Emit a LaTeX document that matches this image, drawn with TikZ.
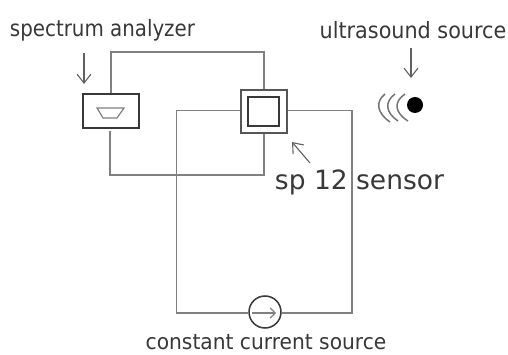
\documentclass[tikz,border=0pt]{standalone}
\usepackage{fontspec}
\setmainfont{DejaVu Sans}
\newfontfamily\condfont{DejaVu Sans Condensed}
\usetikzlibrary{arrows.meta}
\definecolor{wire}{gray}{0.5}
\definecolor{ink}{gray}{0.22}
\tikzset{
  wireline/.style={draw=wire,line width=1.3pt,line join=miter},
  boxline/.style={draw=ink,line width=1.5pt,inner sep=0pt},
  pointer/.style={draw=ink!80!white,line width=1.1pt,-{Straight Barb[length=9pt,width=14pt,line width=1.1pt]}},
  narrowlabel/.style={font=\condfont\fontsize{22.5}{26}\selectfont,text=ink,inner sep=0pt,anchor=center},
  widelabel/.style={font=\fontsize{26.5}{30}\selectfont,text=ink,inner sep=0pt,anchor=center},
  wavearc/.style={draw=ink!70!white,line width=1.5pt}
}
\begin{document}
\begin{tikzpicture}[x=1pt,y=-1pt]
\useasboundingbox (0,0) rectangle (508,355);
% equipment
\node[boxline,minimum width=56pt,minimum height=34pt] (analyzer) at (111,111) {};
\node[draw=ink!85!white,line width=1.2pt,minimum width=46pt,minimum height=43pt,inner sep=0pt] (sensor) at (264,111.5) {};
\node[draw=ink,line width=2.2pt,minimum width=31pt,minimum height=29pt,inner sep=0pt] (core) at (263.5,111.5) {};
\node[circle,draw=ink,line width=1.5pt,minimum size=32pt,inner sep=0pt] (source) at (265,312) {};
\node[circle,fill=black,minimum size=16pt,inner sep=0pt] (dot) at (415,105) {};
% display glyph in the analyzer
\draw[draw=wire,line width=1.2pt] (97,108) -- (124,108) -- (117,118) -- (103,118) -- cycle;
% wires
\coordinate (topright) at (264,52);
\coordinate (lowright) at (264,175);
\coordinate (lowleft) at (110,131);
\coordinate (sensorleft) at (176.5,110.5);
\coordinate (bottomleft) at (176.5,313);
\coordinate (sensorright) at (352,110.5);
\coordinate (bottomright) at (352,313);
\draw[wireline] (analyzer.north) |- (topright) -- (sensor.north);
\draw[wireline] (lowleft) |- (lowright) -- (sensor.south);
\draw[wireline] (sensor.west |- sensorleft) -- (sensorleft) -- (bottomleft) -- (source.west |- bottomleft);
\draw[wireline] (sensor.east |- sensorright) -- (sensorright) -- (bottomright) -- (source.east |- bottomright);
% current arrow in the source
\coordinate (srcl) at (252,313);
\coordinate (srcr) at (276,313);
\draw[draw=wire,line width=1.1pt,-{Straight Barb[length=5pt,width=10pt]}] (srcl) -- (srcr);
% ultrasound waves
\draw[wavearc] (405,94) .. controls (393,102) and (395,113) .. (408,121);
\draw[wavearc] (395,94) .. controls (384,102) and (386,113) .. (398,121);
\draw[wavearc] (385,94) .. controls (375,102) and (377,113) .. (390,122);
% pointers
\coordinate (p1a) at (84,53);\coordinate (p1b) at (84,84);
\coordinate (p2a) at (411,48);\coordinate (p2b) at (411,78);
\coordinate (p3a) at (310,163);\coordinate (p3b) at (292,142);
\draw[pointer] (p1a) -- (p1b);
\draw[pointer] (p2a) -- (p2b);
\draw[pointer] (p3a) -- (p3b);
% labels
\node[narrowlabel,xscale=.98] (specl) at (102.5,30) {spectrum analyzer};
\node[narrowlabel,xscale=1.025] (ultral) at (413,30) {ultrasound source};
\node[widelabel] (sensl) at (359.5,182) {sp 12 sensor};
\node[narrowlabel,font=\condfont\fontsize{21.5}{25}\selectfont,xscale=1.045] (constl) at (266,342) {constant current source};
\end{tikzpicture}
\end{document}
